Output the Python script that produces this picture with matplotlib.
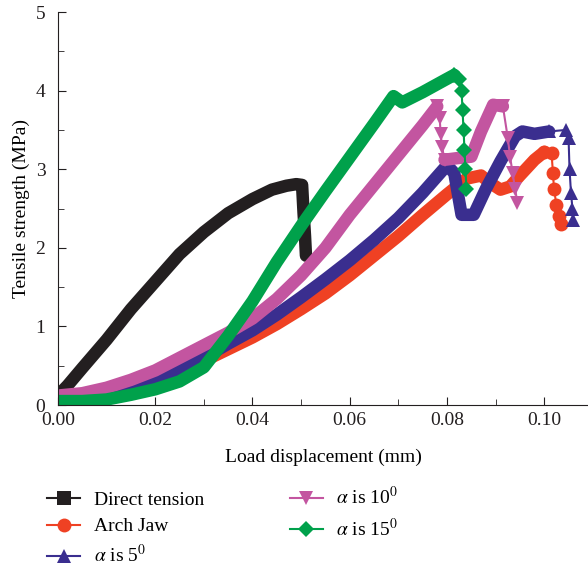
import numpy as np
import matplotlib
matplotlib.use('Agg')
import matplotlib.pyplot as plt
from matplotlib.ticker import MultipleLocator, FormatStrFormatter

plt.rcParams.update({
    "font.family": "serif",
    "font.serif": ["Liberation Serif", "DejaVu Serif"],
    "mathtext.fontset": "stix",
    "font.size": 14,
})

# data
# ------------------------
x_direct = [0, 0.002, 0.005, 0.010, 0.015, 0.020, 0.025, 0.030, 0.035, 0.040, 0.044, 0.047,
            0.049, 0.0502, 0.0505, 0.0508, 0.051]
y_direct = [0.12, 0.25, 0.47, 0.83, 1.22, 1.57, 1.92, 2.20, 2.44, 2.62, 2.74, 2.79,
            2.81, 2.80, 2.45, 2.15, 1.90]

x_arch = [0, 0.005, 0.010, 0.015, 0.020, 0.025, 0.030, 0.035, 0.040, 0.045, 0.050, 0.055,
          0.060, 0.065, 0.070, 0.075, 0.080, 0.084, 0.087, 0.089, 0.091, 0.093, 0.095,
          0.098, 0.100, 0.1015, 0.1018, 0.1020, 0.1025, 0.1030, 0.1034]
y_arch = [0.07, 0.10, 0.15, 0.22, 0.30, 0.42, 0.56, 0.71, 0.86, 1.03, 1.22, 1.42,
          1.65, 1.90, 2.15, 2.42, 2.68, 2.88, 2.92, 2.82, 2.74, 2.78, 2.92,
          3.12, 3.22, 3.20, 2.95, 2.75, 2.55, 2.40, 2.30]

x_a5 = [0, 0.005, 0.010, 0.015, 0.020, 0.025, 0.030, 0.035, 0.040, 0.045, 0.050, 0.055,
        0.060, 0.065, 0.070, 0.075, 0.080, 0.0815, 0.083, 0.0855, 0.088, 0.091, 0.094,
        0.0955, 0.098, 0.101, 0.1045, 0.1050, 0.1052, 0.1055, 0.1058, 0.1060]
y_a5 = [0.05, 0.10, 0.16, 0.24, 0.32, 0.45, 0.60, 0.78, 0.95, 1.15, 1.37, 1.60,
        1.84, 2.10, 2.38, 2.70, 3.05, 2.95, 2.42, 2.42, 2.75, 3.10, 3.42,
        3.48, 3.45, 3.48, 3.50, 3.40, 3.00, 2.70, 2.50, 2.35]

x_a10 = [0, 0.005, 0.010, 0.015, 0.020, 0.025, 0.030, 0.035, 0.040, 0.045, 0.050, 0.055,
         0.060, 0.065, 0.070, 0.075, 0.078, 0.0785, 0.0787, 0.0790, 0.0795, 0.082, 0.085,
         0.087, 0.0895, 0.0915, 0.0925, 0.0930, 0.0935, 0.0940, 0.0945]
y_a10 = [0.12, 0.15, 0.22, 0.32, 0.44, 0.60, 0.76, 0.92, 1.10, 1.35, 1.65, 2.00,
         2.42, 2.80, 3.18, 3.56, 3.80, 3.65, 3.45, 3.28, 3.12, 3.14, 3.16,
         3.48, 3.82, 3.80, 3.40, 3.15, 2.95, 2.75, 2.57]

x_a15 = [0, 0.005, 0.010, 0.015, 0.020, 0.022, 0.025, 0.030, 0.035, 0.040, 0.045, 0.050,
         0.055, 0.060, 0.065, 0.069, 0.0708, 0.075, 0.080, 0.0815, 0.0825, 0.0830,
         0.0832, 0.0834, 0.0836, 0.0838, 0.0840]
y_a15 = [0.05, 0.05, 0.07, 0.13, 0.20, 0.24, 0.30, 0.48, 0.88, 1.32, 1.82, 2.28,
         2.72, 3.15, 3.58, 3.93, 3.85, 3.98, 4.15, 4.20, 4.15, 4.00,
         3.75, 3.50, 3.25, 3.00, 2.75]

labels = ['Direct tension', 'Arch Jaw', r'$\alpha$ is 5$^0$', r'$\alpha$ is 10$^0$', r'$\alpha$ is 15$^0$']

# x, y, marker, colour, index ranges drawn as smooth band (rest: thin line + markers)
series = [
    (x_direct, y_direct, 's', '#231f20', [(0, 17)]),
    (x_arch, y_arch, 'o', '#ef4123', [(0, 25)]),
    (x_a5, y_a5, '^', '#3a2e8f', [(0, 26)]),
    (x_a10, y_a10, 'v', '#c355a0', [(0, 17), (20, 26)]),
    (x_a15, y_a15, 'D', '#00a14b', [(0, 20)]),
]

fig = plt.figure(figsize=(5.88, 5.67), dpi=100)
ax = fig.add_axes([0.0986, 0.2857, 0.9014, 0.6931])

handles = []
for (xs, ys, mk, col, bands), lab in zip(series, labels):
    ms = 10 if mk != 'D' else 8
    n = len(xs)
    # drop parts between the bands: thin line with markers
    gaps = []
    prev_end = None
    for a, b in bands:
        if prev_end is not None and a > prev_end - 1:
            gaps.append((prev_end - 1, a + 1))
        prev_end = b
    if prev_end < n:
        gaps.append((prev_end - 1, n))
    for a, b in bands:
        ax.plot(xs[a:b], ys[a:b], '-', color=col, lw=9, solid_capstyle='round',
                solid_joinstyle='round', zorder=2)
    for a, b in gaps:
        ax.plot(xs[a:b], ys[a:b], '-', color=col, lw=1.5, marker=mk,
                markersize=ms, markeredgewidth=0, zorder=3)
    h, = ax.plot([], [], '-', color=col, lw=1.5, marker=mk, markersize=ms,
                 markeredgewidth=0, label=lab)
    handles.append(h)

ax.set_xlim(0, 0.109)
ax.set_ylim(0, 5)
ax.xaxis.set_major_locator(MultipleLocator(0.02))
ax.xaxis.set_minor_locator(MultipleLocator(0.01))
ax.xaxis.set_major_formatter(FormatStrFormatter('%.2f'))
ax.yaxis.set_major_locator(MultipleLocator(1))
ax.yaxis.set_minor_locator(MultipleLocator(0.5))
ax.tick_params(which='both', direction='in', colors='#231f20', labelsize=14)
ax.tick_params(which='major', length=6)
ax.tick_params(which='minor', length=4)
ax.tick_params(axis='y', pad=9)
ax.tick_params(axis='x', pad=5)
ax.spines['top'].set_visible(False)
ax.spines['right'].set_visible(False)
for s in ['left', 'bottom']:
    ax.spines[s].set_color('#231f20')

ax.set_xlabel('Load displacement (mm)', fontsize=14, labelpad=14)
ax.set_ylabel('Tensile strength (MPa)', fontsize=14, labelpad=4)

fig.legend(handles=handles, loc='upper left', bbox_to_anchor=(0.08, 0.142), ncol=2,
           frameon=False, fontsize=14, handlelength=1.7, handletextpad=0.7,
           columnspacing=4.4, labelspacing=0.47, borderaxespad=0, borderpad=0)

fig.savefig('out.png', dpi=100)
